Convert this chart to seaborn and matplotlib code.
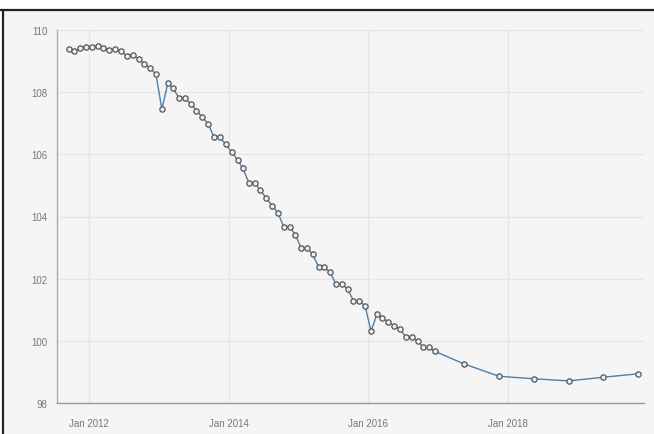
import matplotlib
matplotlib.use("Agg")
import matplotlib.pyplot as plt
from matplotlib.lines import Line2D
import seaborn as sns
import pandas as pd

# Monthly readings (mid-month), Aug 2011 - Nov 2016
monthly_start = "2011-08-15"
monthly_values = [
    109.38, 109.33, 109.42, 109.45, 109.45, 109.47, 109.43, 109.37,
    109.38, 109.31, 109.17, 109.20, 109.07, 108.91, 108.77, 108.58,
    107.45, 108.29, 108.12, 107.81, 107.81, 107.63, 107.41, 107.19,
    106.98, 106.55, 106.55, 106.32, 106.08, 105.82, 105.55, 105.09,
    105.09, 104.85, 104.59, 104.35, 104.11, 103.67, 103.67, 103.41,
    102.98, 102.98, 102.79, 102.38, 102.38, 102.20, 101.83, 101.83,
    101.66, 101.29, 101.29, 101.12, 100.31, 100.86, 100.74, 100.60,
    100.49, 100.38, 100.12, 100.12, 99.99, 99.79, 99.79, 99.66,
]

# Semi-annual readings afterwards
later_dates = ["2017-05-15", "2017-11-15", "2018-05-15", "2018-11-15",
               "2019-05-15", "2019-11-15"]
later_values = [99.26, 98.86, 98.78, 98.71, 98.83, 98.94]

x_tick_dates = ["2012-01-01", "2014-01-01", "2016-01-01", "2018-01-01"]
x_tick_labels = ["Jan 2012", "Jan 2014", "Jan 2016", "Jan 2018"]
y_ticks = [98, 100, 102, 104, 106, 108, 110]

dates = list(pd.date_range(monthly_start, periods=len(monthly_values), freq="MS")
             + pd.Timedelta(days=14)) + list(pd.to_datetime(later_dates))
df = pd.DataFrame({"date": dates, "value": monthly_values + later_values})

sns.set_style("white")
plt.rcParams["font.family"] = ["Liberation Sans", "DejaVu Sans"]

bg = "#f5f5f5"
fig = plt.figure(figsize=(6.54, 4.35), dpi=100, facecolor="white")

# Panel background with dark top and left frame edges
panel = plt.Rectangle((3 / 654, 0), 1, 1 - 11 / 435, transform=fig.transFigure,
                      facecolor=bg, edgecolor="none", zorder=-5)
fig.add_artist(panel)
fig.add_artist(Line2D([0, 1], [1 - 10.5 / 435] * 2, transform=fig.transFigure,
                      color="#222222", lw=1.6, zorder=-4))
fig.add_artist(Line2D([2.5 / 654] * 2, [0, 1 - 10.5 / 435],
                      transform=fig.transFigure, color="#222222", lw=1.6,
                      zorder=-4))

ax = fig.add_axes([57 / 654, 1 - 404 / 435, (644 - 57) / 654, (404 - 31) / 435])
ax.set_facecolor(bg)

sns.lineplot(data=df, x="date", y="value", ax=ax, color="#4a7fb0", lw=1.0,
             marker="o", markersize=3.8, markerfacecolor="#eeeeee",
             markeredgecolor="#555555", markeredgewidth=0.9, zorder=3)

ax.set_xlim(pd.Timestamp("2011-07-16"), pd.Timestamp("2019-12-14"))
ax.set_ylim(98, 110)
ax.set_yticks(y_ticks)
ax.set_yticklabels([str(v) for v in y_ticks])
ax.set_xticks(pd.to_datetime(x_tick_dates))
ax.set_xticklabels(x_tick_labels)
ax.set_xlabel("")
ax.set_ylabel("")

ax.grid(True, color="#e6e6e6", lw=1.0, zorder=0)
ax.set_axisbelow(True)
for side in ["top", "right"]:
    ax.spines[side].set_visible(False)
ax.spines["left"].set_color("#aaaaaa")
ax.spines["bottom"].set_color("#999999")
ax.spines["left"].set_linewidth(1.0)
ax.spines["bottom"].set_linewidth(1.0)

ax.tick_params(axis="y", length=4, width=0.8, color="#aaaaaa",
               labelsize=7, labelcolor="#777777", pad=3)
ax.tick_params(axis="x", length=0, labelsize=7, labelcolor="#777777", pad=11)

fig.savefig("out.png", dpi=100, facecolor="white")
